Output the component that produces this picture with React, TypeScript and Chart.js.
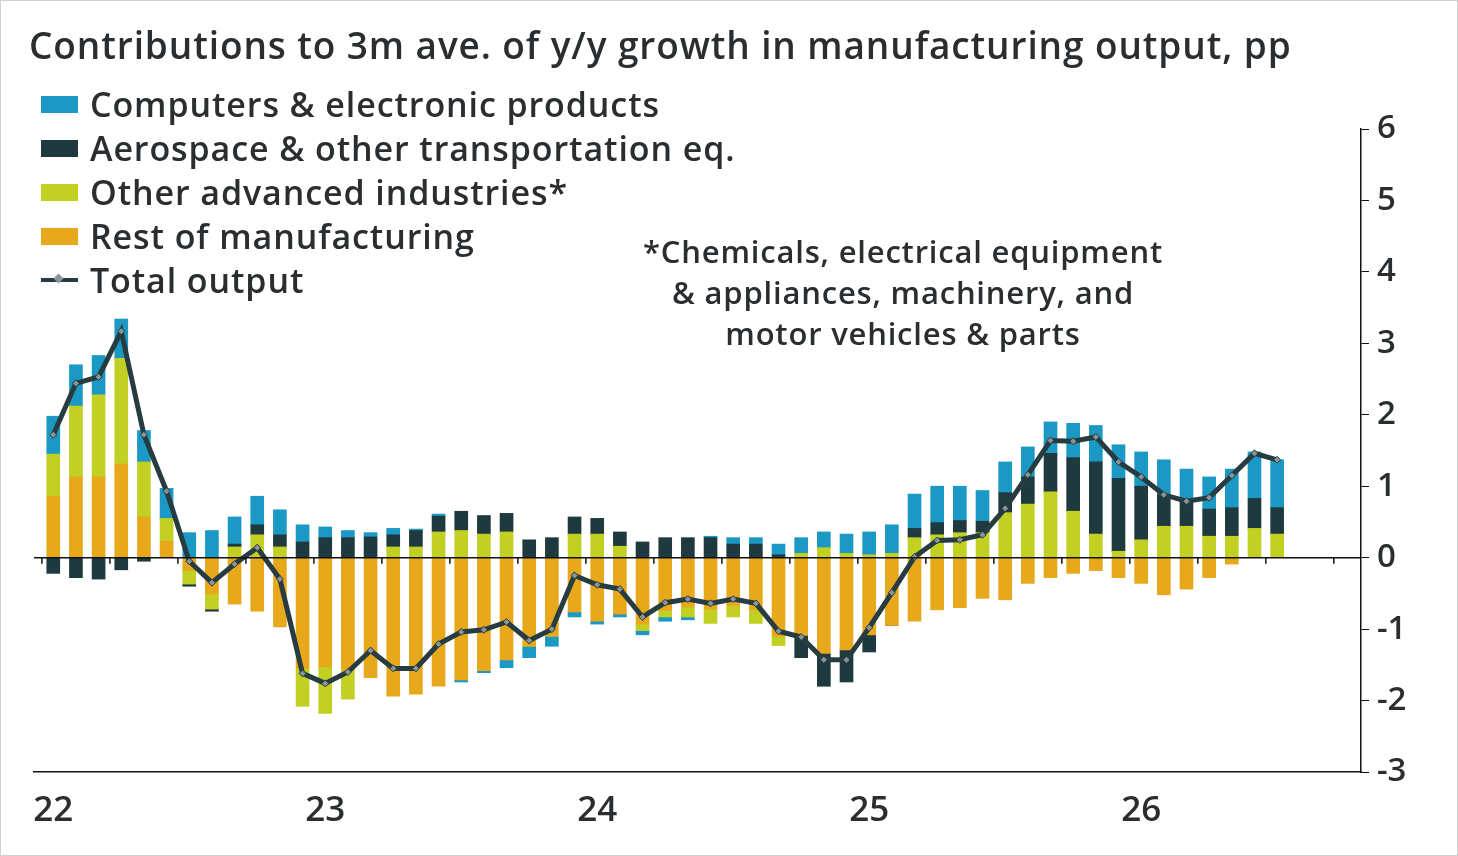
import React, { useEffect, useRef } from "react";
import { Chart, registerables } from "chart.js";
Chart.register(...registerables);

const yearLabels = ["22", "23", "24", "25", "26"];
const rest = [0.86,1.13,1.13,1.31,0.57,0.23,-0.18,-0.51,-0.65,-0.75,-0.97,-1.55,-1.53,-1.57,-1.68,-1.94,-1.91,-1.8,-1.71,-1.58,-1.43,-1.24,-1.1,-0.76,-0.89,-0.79,-0.93,-0.74,-0.69,-0.72,-0.67,-0.73,-1.1,-1.09,-1.34,-1.29,-1.08,-0.95,-0.89,-0.73,-0.7,-0.57,-0.59,-0.36,-0.28,-0.22,-0.18,-0.28,-0.36,-0.52,-0.44,-0.28,-0.09,0,0];
const otherAdv = [0.59,0.99,1.15,1.48,0.77,0.32,-0.19,-0.21,0.15,0.32,0.15,-0.53,-0.65,-0.41,0,0.15,0.15,0.36,0.38,0.33,0.36,0,0,0.33,0.33,0.16,-0.09,-0.09,-0.14,-0.2,-0.16,-0.19,-0.13,0.06,0.14,0.06,0.04,0.06,0.28,0.32,0.35,0.35,0.63,0.75,0.92,0.65,0.33,0.09,0.25,0.44,0.44,0.3,0.3,0.41,0.33];
const aero = [-0.22,-0.28,-0.3,-0.17,-0.05,0,-0.03,-0.03,0.04,0.14,0.17,0.22,0.28,0.28,0.29,0.17,0.23,0.22,0.27,0.26,0.26,0.25,0.28,0.24,0.22,0.2,0.22,0.28,0.28,0.28,0.19,0.19,0.04,-0.31,-0.46,-0.45,-0.24,0,0.13,0.17,0.17,0.16,0.28,0.38,0.54,0.75,1.01,1.02,0.75,0.44,0.35,0.38,0.4,0.42,0.37];
const computers = [0.53,0.58,0.55,0.55,0.44,0.42,0.35,0.38,0.38,0.4,0.35,0.24,0.15,0.1,0.06,0.09,0.02,0.03,-0.03,-0.03,-0.11,-0.16,-0.14,-0.07,-0.04,-0.04,-0.06,-0.06,-0.04,0.02,0.09,0.09,0.15,0.22,0.22,0.27,0.32,0.4,0.48,0.51,0.48,0.43,0.43,0.42,0.44,0.48,0.51,0.47,0.48,0.49,0.45,0.45,0.54,0.65,0.67];
const total = [1.72,2.44,2.53,3.17,1.72,0.93,-0.05,-0.35,-0.09,0.14,-0.3,-1.62,-1.76,-1.6,-1.3,-1.55,-1.55,-1.21,-1.04,-1.01,-0.9,-1.16,-1.0,-0.25,-0.38,-0.44,-0.83,-0.63,-0.58,-0.64,-0.58,-0.64,-1.03,-1.11,-1.43,-1.43,-0.98,-0.49,0.01,0.24,0.25,0.32,0.69,1.16,1.64,1.63,1.69,1.34,1.13,0.88,0.79,0.84,1.15,1.46,1.37];

const C_BLUE = "#1b98c3";
const C_DARK = "#1f3a3e";
const C_LIME = "#c2cf23";
const C_ORANGE = "#e8a81c";
const TXT = "#2a2e30";
const FONT = "'Open Sans', sans-serif";

const pts = (arr: number[]) => arr.map((y, i) => ({ x: i, y }));

const zeroPlugin = {
  id: "zeroLine",
  afterDatasetsDraw(chart: any) {
    const { ctx, chartArea, scales } = chart;
    const y0 = scales.y.getPixelForValue(0);
    ctx.save();
    ctx.strokeStyle = "#111";
    ctx.lineWidth = 1.5;
    ctx.beginPath();
    ctx.moveTo(chartArea.left, y0);
    ctx.lineTo(chartArea.right, y0);
    for (let q = -0.5; q < 58; q += 3) {
      const x = scales.x.getPixelForValue(q);
      ctx.moveTo(x, y0);
      ctx.lineTo(x, y0 + 6);
    }
    ctx.stroke();
    ctx.restore();
  },
};

export default function App() {
  const ref = useRef<HTMLCanvasElement>(null);
  useEffect(() => {
    document.body.style.margin = "0";
    const bar = (label: string, data: number[], color: string) => ({
      type: "bar" as const, label, data: pts(data), backgroundColor: color,
      stack: "s", barThickness: 13, order: 2,
    });
    const chart = new Chart(ref.current!, {
      type: "bar",
      data: {
        datasets: [
          {
            type: "line", label: "Total output", data: pts(total), borderColor: "#263c40",
            borderWidth: 5, pointStyle: "rectRot", pointRadius: 3.5, pointBackgroundColor: "#8a9496",
            pointBorderColor: "#263c40", pointBorderWidth: 1, order: 0, tension: 0,
          } as any,
          bar("Rest of manufacturing", rest, C_ORANGE),
          bar("Other advanced industries*", otherAdv, C_LIME),
          bar("Aerospace & other transportation eq.", aero, C_DARK),
          bar("Computers & electronic products", computers, C_BLUE),
        ],
      },
      options: {
        animation: false,
        responsive: false,
        layout: { padding: { top: 128, left: 33, right: 0, bottom: 0 } },
        plugins: { legend: { display: false }, tooltip: { enabled: false } },
        scales: {
          x: {
            type: "linear", min: -0.85, max: 57.7, stacked: true, offset: false,
            grid: { display: false, drawTicks: false, offset: false },
            border: { display: true, color: "#111", width: 1.5 },
            afterBuildTicks: (s: any) => { s.ticks = [0, 12, 24, 36, 48].map((v) => ({ value: v })); },
            afterFit: (s: any) => { s.height = 83; },
            ticks: {
              autoSkip: false, maxRotation: 0, padding: 18, color: TXT,
              font: { family: FONT, size: 35, weight: 600 },
              callback: (v: any) => yearLabels[Math.round(v / 12)] ?? "",
            },
          },
          y: {
            position: "right", min: -3, max: 6, stacked: true,
            grid: { drawOnChartArea: false, drawTicks: true, tickLength: 8, color: "#111" },
            border: { display: true, color: "#111", width: 1.5 },
            afterFit: (s: any) => { s.width = 96; },
            ticks: { stepSize: 1, padding: 8, color: TXT, font: { family: FONT, size: 33, weight: 600 } },
          },
        },
      } as any,
      plugins: [zeroPlugin],
    });
    return () => chart.destroy();
  }, []);

  const legend = [
    { c: C_BLUE, t: "Computers & electronic products" },
    { c: C_DARK, t: "Aerospace & other transportation eq." },
    { c: C_LIME, t: "Other advanced industries*" },
    { c: C_ORANGE, t: "Rest of manufacturing" },
  ];
  const legStyle: React.CSSProperties = { position: "absolute", left: 40, height: 42, display: "flex", alignItems: "center", fontSize: 34, fontWeight: 600, letterSpacing: 0.9, whiteSpace: "nowrap" };
  return (
    <div style={{ position: "relative", width: 1458, height: 856, background: "#fff", fontFamily: FONT, color: TXT, boxSizing: "border-box", border: "1px solid #cfd3d4", overflow: "hidden" }}>
      <canvas ref={ref} width={1456} height={854} style={{ position: "absolute", left: 0, top: 0 }} />
      <div style={{ position: "absolute", left: 28, top: 18, fontSize: 37, fontWeight: 600, letterSpacing: 0.9, whiteSpace: "nowrap" }}>
        Contributions to 3m ave. of y/y growth in manufacturing output, pp
      </div>
      {legend.map((l, i) => (
        <div key={i} style={{ ...legStyle, top: 82 + i * 44 }}>
          <span style={{ display: "inline-block", width: 37, height: 17, background: l.c, marginRight: 12 }} />
          {l.t}
        </div>
      ))}
      <div style={{ ...legStyle, top: 82 + 4 * 44 }}>
        <span style={{ position: "relative", display: "inline-block", width: 37, height: 4, background: "#263c40", marginRight: 12 }}>
          <span style={{ position: "absolute", left: 14, top: -3, width: 7, height: 7, background: "#8a9496", transform: "rotate(45deg)" }} />
        </span>
        Total output
      </div>
      <div style={{ position: "absolute", left: 552, width: 700, top: 230, textAlign: "center", fontSize: 31, fontWeight: 600, letterSpacing: 0.8, lineHeight: "41px" }}>
        *Chemicals, electrical equipment<br />& appliances, machinery, and<br />motor vehicles & parts
      </div>
    </div>
  );
}
